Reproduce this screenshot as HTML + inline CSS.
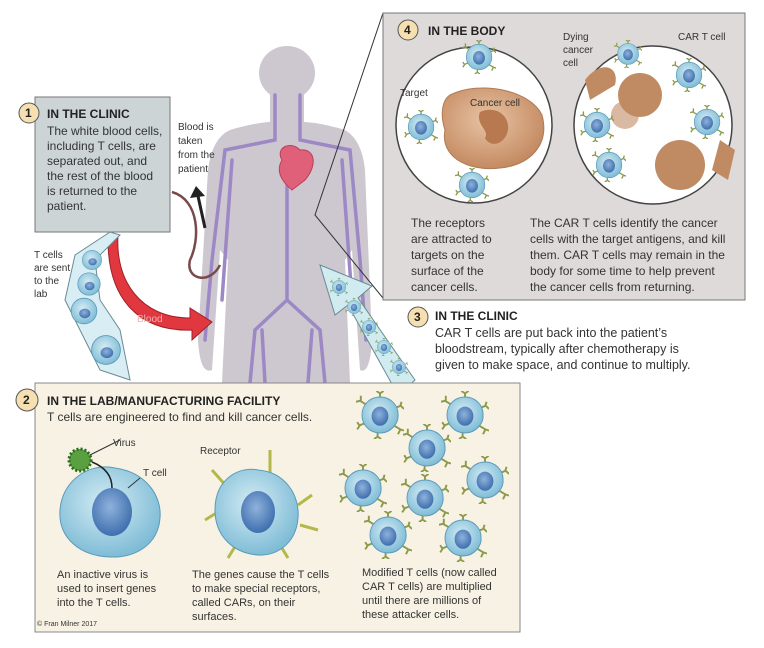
<!DOCTYPE html>
<html><head><meta charset="utf-8"><style>
html,body{margin:0;padding:0;background:#fff}
svg{display:block}
text{font-family:"Liberation Sans",sans-serif;fill:#333}
.t{font-size:12px}
.t3{font-size:12.5px}
.h{font-size:12px;font-weight:bold;fill:#222}
.s{font-size:10px}
.c{font-size:11px}
</style></head><body>
<svg width="764" height="648" viewBox="0 0 764 648" xmlns="http://www.w3.org/2000/svg">
<defs>
<radialGradient id="cg" cx="45%" cy="40%" r="60%"><stop offset="0" stop-color="#d4ecf4"/><stop offset="1" stop-color="#7fbcd6"/></radialGradient>
<radialGradient id="ng" cx="45%" cy="40%" r="60%"><stop offset="0" stop-color="#8fb2dc"/><stop offset="1" stop-color="#3f6fae"/></radialGradient>
<radialGradient id="ca" cx="45%" cy="40%" r="60%"><stop offset="0" stop-color="#e8c4a4"/><stop offset="1" stop-color="#c48a62"/></radialGradient>
<symbol id="cell" viewBox="-20 -20 40 40">
<g stroke="#8c9a4a" stroke-width="1.6" fill="none">
<path d="M0-14V-19M-3-20L0-18L3-20"/><path d="M13-6L18-8M18-11L17-8L20-5"/><path d="M12 9L17 12M15 16L17 12L20 13"/><path d="M-2 15V19M-5 20L-2 18L1 20"/><path d="M-13 7L-18 9M-19 6L-17 9L-19 12"/><path d="M-12-9L-17-12M-16-16L-16-12L-20-11"/>
</g>
<path d="M0-15C8-15 15-9 15-1C16 7 9 15 0 15C-9 15-15 8-15 0C-15-9-8-15 0-15Z" fill="url(#cg)" stroke="#5a9ab8" stroke-width="0.8"/>
<ellipse cx="0" cy="1" rx="7" ry="8" fill="url(#ng)"/>
</symbol>
<symbol id="tc" viewBox="-20 -20 40 40">
<path d="M0-16C9-16 16-9 16 0C16 9 9 16 0 16C-9 16-16 9-16 0C-16-9-9-16 0-16Z" fill="url(#cg)" stroke="#5a9ab8"/>
<ellipse cx="1" cy="3" rx="7" ry="6" fill="url(#ng)"/>
</symbol>
</defs>

<!-- body -->
<g fill="#cdc7cf">
<ellipse cx="287" cy="73" rx="28" ry="27"/>
<rect x="270" y="92" width="34" height="30"/>
<path d="M230 130Q287 112 345 130Q362 140 365 170L372 340Q370 375 360 370L352 250L345 260L350 383H222L228 260L220 250L212 370Q200 375 198 340L208 170Q212 138 230 130Z"/>
</g>
<g stroke="#9d88c6" stroke-width="3.5" fill="none" stroke-linecap="round">
<path d="M287 150V300M287 300L255 330L250 383M287 300L320 330L325 383"/>
<path d="M275 95V140L225 150L212 260L205 340M300 95V140L350 150L360 260L366 340"/>
<path d="M232 160L222 300M342 160L352 300M262 330L265 383M312 330L308 383"/>
</g>
<path d="M282 160C275 148 290 140 300 150C315 148 318 165 305 180L292 190C280 180 276 170 282 160Z" fill="#e0607a" stroke="#b84058"/>
<path d="M383 13L315 215L383 298" fill="none" stroke="#333" stroke-width="1"/>

<!-- box 1 -->
<rect x="35" y="97" width="135" height="135" fill="#ccd4d6" stroke="#777"/>
<circle cx="29" cy="113" r="10" fill="#f6dfb0" stroke="#555"/><text x="25" y="117" class="h">1</text>
<text x="47" y="118" class="h">IN THE CLINIC</text>
<text class="t"><tspan x="47" y="135">The white blood cells,</tspan><tspan x="47" y="150">including T cells, are</tspan><tspan x="47" y="165">separated out, and</tspan><tspan x="47" y="180">the rest of the blood</tspan><tspan x="47" y="195">is returned to the</tspan><tspan x="47" y="210">patient.</tspan></text>
<text class="s"><tspan x="178" y="130">Blood is</tspan><tspan x="178" y="144">taken</tspan><tspan x="178" y="158">from the</tspan><tspan x="178" y="172">patient</tspan></text>
<path d="M205 228L198 196" stroke="#222" stroke-width="3" fill="none"/><path d="M190 198L196 186L205 196Z" fill="#222"/>
<path d="M172 192C200 200 200 240 190 260C185 280 210 285 220 265" stroke="#7a4a4a" stroke-width="2.5" fill="none"/>
<path d="M118 235C115 280 140 318 190 318L190 308L212 322L192 340L192 330C140 332 108 300 108 240Z" fill="#e0383e" stroke="#a02028"/>
<text x="137" y="322" class="s" style="fill:#f4b0b0">Blood</text>
<path d="M110 232L75 255L65 300L100 370L130 380L120 330L100 300L95 260L120 235Z" fill="#d8eef4" stroke="#6a8a94"/>
<use href="#tc" x="80" y="248" width="24" height="24"/><use href="#tc" x="75" y="270" width="28" height="28"/><use href="#tc" x="68" y="295" width="32" height="32"/><use href="#tc" x="88" y="332" width="36" height="36"/>
<text class="s"><tspan x="34" y="258">T cells</tspan><tspan x="34" y="271">are  sent</tspan><tspan x="34" y="284">to the</tspan><tspan x="34" y="297">lab</tspan></text>
<path d="M415 380L358 298L372 286L320 265L335 315L348 305L398 395Z" fill="#d0ecf0" stroke="#6a8a94"/>
<use href="#cell" x="330" y="278" width="18" height="18"/><use href="#cell" x="345" y="298" width="18" height="18"/><use href="#cell" x="360" y="318" width="18" height="18"/><use href="#cell" x="375" y="338" width="18" height="18"/><use href="#cell" x="390" y="358" width="18" height="18"/>

<!-- box 4 -->
<rect x="383" y="13" width="362" height="287" fill="#dedada" stroke="#777"/>
<circle cx="408" cy="30" r="10" fill="#f6dfb0" stroke="#555"/><text x="404" y="34" class="h">4</text>
<text x="428" y="35" class="h">IN THE BODY</text>
<circle cx="474" cy="125" r="78" fill="#fff" stroke="#444" stroke-width="1.5"/>
<circle cx="653" cy="125" r="79" fill="#fff" stroke="#444" stroke-width="1.5"/>
<path d="M450 95C480 80 530 90 542 115C550 145 530 165 500 168C465 172 440 155 445 130C440 115 442 100 450 95Z" fill="url(#ca)" stroke="#b07a55"/>
<path d="M480 112C495 105 510 115 508 130C505 145 490 148 485 138C490 130 475 125 480 112Z" fill="#b87850"/>
<use href="#cell" x="462" y="40" width="34" height="34"/><use href="#cell" x="404" y="110" width="34" height="34"/><use href="#cell" x="455" y="168" width="34" height="34"/>
<text x="400" y="96" class="s">Target</text><text x="470" y="106" class="s">Cancer cell</text>
<g fill="#c08a62"><path d="M585 80C600 60 620 65 615 85L590 100Z"/><circle cx="640" cy="95" r="22"/><circle cx="680" cy="165" r="25"/><path d="M720 140L735 150L728 180L712 170Z"/><circle cx="625" cy="115" r="14" opacity=".6"/></g>
<use href="#cell" x="672" y="58" width="34" height="34"/><use href="#cell" x="580" y="108" width="34" height="34"/><use href="#cell" x="690" y="105" width="34" height="34"/><use href="#cell" x="592" y="148" width="34" height="34"/><use href="#cell" x="614" y="40" width="28" height="28"/>
<text class="s"><tspan x="563" y="40">Dying</tspan><tspan x="563" y="53">cancer</tspan><tspan x="563" y="66">cell</tspan></text>
<text x="678" y="40" class="s">CAR T cell</text>
<text class="t"><tspan x="411" y="227">The receptors</tspan><tspan x="411" y="243">are attracted to</tspan><tspan x="411" y="259">targets on the</tspan><tspan x="411" y="275">surface of the</tspan><tspan x="411" y="291">cancer cells.</tspan></text>
<text class="t"><tspan x="530" y="227">The CAR T cells identify the cancer</tspan><tspan x="530" y="243">cells with the target antigens, and kill</tspan><tspan x="530" y="259">them. CAR T cells may remain in the</tspan><tspan x="530" y="275">body for some time to help prevent</tspan><tspan x="530" y="291">the cancer cells from returning.</tspan></text>

<circle cx="418" cy="317" r="10" fill="#f6dfb0" stroke="#555"/><text x="414" y="321" class="h">3</text>
<text x="435" y="320" class="h">IN THE CLINIC</text>
<text class="t3"><tspan x="435" y="337">CAR T cells are put back into the patient’s</tspan><tspan x="435" y="353">bloodstream, typically after chemotherapy is</tspan><tspan x="435" y="369">given to make space, and continue to multiply.</tspan></text>

<!-- box 2 -->
<rect x="35" y="383" width="485" height="249" fill="#f7f2e4" stroke="#888"/>
<circle cx="27" cy="400" r="11" fill="#f6dfb0" stroke="#555"/><text x="23" y="404" class="h">2</text>
<text x="47" y="405" class="h">IN THE LAB/MANUFACTURING FACILITY</text>
<text x="47" y="421" class="t">T cells are engineered to find and kill cancer cells.</text>
<circle cx="80" cy="460" r="11" fill="#5aa040" stroke="#2e6a20" stroke-dasharray="2 2" stroke-width="3"/>
<text x="113" y="446" class="s">Virus</text><text x="143" y="476" class="s">T cell</text>
<path d="M60 510C62 480 90 462 115 468C145 472 162 495 160 518C158 545 135 558 110 557C80 556 58 538 60 510Z" fill="url(#cg)" stroke="#5a9ab8"/>
<ellipse cx="112" cy="512" rx="20" ry="24" fill="url(#ng)"/>
<path d="M92 462Q112 470 112 488" stroke="#222" fill="none" stroke-width="1.5"/>
<path d="M120 440L90 455M140 478L128 488" stroke="#333" fill="none"/>
<g stroke="#b4b84a" stroke-width="3" fill="none"><path d="M270 450V478M212 470L228 488M205 520L218 512M312 495L298 505M318 530L300 525M228 558L236 545M288 558L280 545"/></g>
<path d="M215 510C215 478 240 466 258 470C285 472 300 495 298 518C296 545 275 556 258 555C232 553 215 535 215 510Z" fill="url(#cg)" stroke="#5a9ab8"/>
<ellipse cx="258" cy="512" rx="17" ry="21" fill="url(#ng)"/>
<text x="200" y="454" class="s">Receptor</text>
<use href="#cell" x="356" y="391" width="48" height="48"/><use href="#cell" x="441" y="391" width="48" height="48"/><use href="#cell" x="403" y="424" width="48" height="48"/><use href="#cell" x="339" y="464" width="48" height="48"/><use href="#cell" x="461" y="456" width="48" height="48"/><use href="#cell" x="401" y="474" width="48" height="48"/><use href="#cell" x="364" y="511" width="48" height="48"/><use href="#cell" x="439" y="514" width="48" height="48"/>
<text class="c"><tspan x="57" y="578">An inactive virus is</tspan><tspan x="57" y="592">used to insert genes</tspan><tspan x="57" y="606">into the T cells.</tspan></text>
<text class="c"><tspan x="192" y="578">The genes cause the T cells</tspan><tspan x="192" y="592">to make special receptors,</tspan><tspan x="192" y="606">called CARs, on their</tspan><tspan x="192" y="620">surfaces.</tspan></text>
<text class="c"><tspan x="362" y="576">Modified T cells (now called</tspan><tspan x="362" y="590">CAR T cells) are multiplied</tspan><tspan x="362" y="604">until there are millions of</tspan><tspan x="362" y="618">these attacker cells.</tspan></text>
<text x="37" y="626" style="font-size:7px">© Fran Milner 2017</text>
</svg>
</body></html>
